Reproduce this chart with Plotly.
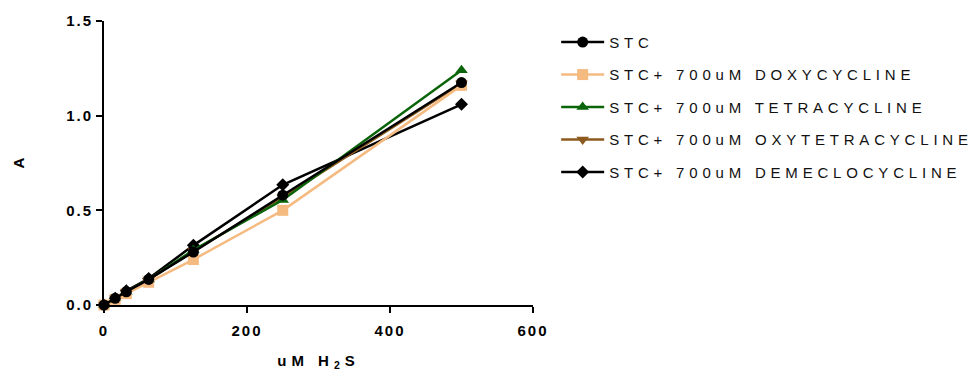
import plotly.graph_objects as go

# H2S concentration series (uM) and absorbance readings
conc_uM = [0, 15.625, 31.25, 62.5, 125, 250, 500]
series_names = [
    "STC",
    "STC+ 700uM DOXYCYCLINE",
    "STC+ 700uM TETRACYCLINE",
    "STC+ 700uM OXYTETRACYCLINE",
    "STC+ 700uM DEMECLOCYCLINE",
]
stc = [0, 0.035, 0.07, 0.135, 0.28, 0.58, 1.175]
doxy = [0, 0.03, 0.06, 0.12, 0.24, 0.50, 1.16]
tetra = [0, 0.035, 0.07, 0.135, 0.29, 0.555, 1.24]
oxy = [0, 0.035, 0.07, 0.135, 0.285, 0.57, 1.17]
deme = [0, 0.035, 0.075, 0.14, 0.315, 0.635, 1.06]
x_ticks = [0, 200, 400, 600]
y_ticks = [0.0, 0.5, 1.0, 1.5]

values = [stc, doxy, tetra, oxy, deme]
colors = ["#000000", "#F5BA80", "#0A640A", "#8C5A1E", "#000000"]
symbols = ["circle", "square", "triangle-up", "triangle-down", "diamond"]
sizes = [11, 11, 11, 11, 10]

FONT = "Liberation Sans, Arial, sans-serif"

fig = go.Figure()
# draw in reverse so the first series sits on top; legend keeps original order
for i in reversed(range(len(series_names))):
    fig.add_trace(go.Scatter(
        x=conc_uM, y=values[i], name=series_names[i],
        mode="lines+markers",
        line=dict(color=colors[i], width=2.5),
        marker=dict(symbol=symbols[i], size=sizes[i], color=colors[i]),
        cliponaxis=False,
        legendrank=i + 1,
        legendgroup=f"g{i}",
    ))

fig.update_layout(
    width=974, height=371,
    margin=dict(l=104, r=441, t=21, b=66),
    paper_bgcolor="white", plot_bgcolor="white",
    font=dict(family=FONT, color="#000000"),
    showlegend=True,
    legend=dict(
        x=1.054, xanchor="left", y=0.983, yanchor="top",
        font=dict(family=FONT, size=15, color="#111111"),
        tracegroupgap=10, itemwidth=43,
        bgcolor="rgba(0,0,0,0)",
    ),
    xaxis=dict(
        range=[0, 600], tickvals=x_ticks, ticktext=[str(v) for v in x_ticks],
        automargin=False,
        showgrid=False, zeroline=False,
        showline=True, linecolor="black", linewidth=2,
        ticks="outside", ticklen=6, tickwidth=2, tickcolor="black",
        ticklabelstandoff=5,
        tickfont=dict(family=FONT, size=15, weight="bold"),
        title=dict(text="uM H<sub>2</sub>S", font=dict(family=FONT, size=15, weight="bold"), standoff=18),
    ),
    yaxis=dict(
        range=[0, 1.5], tickvals=y_ticks, ticktext=["0.0", "0.5", "1.0", "1.5"],
        automargin=False,
        showgrid=False, zeroline=False,
        showline=True, linecolor="black", linewidth=2,
        ticks="outside", ticklen=6, tickwidth=2, tickcolor="black",
        tickfont=dict(family=FONT, size=15, weight="bold"),
        title=dict(text="A", font=dict(family=FONT, size=15, weight="bold"), standoff=44),
    ),
)

# widen the letter spacing of the chart's text, in the style of the original graph
spacing_js = """
var gd = document.getElementById('{plot_id}');
function spaceText() {
  gd.querySelectorAll('.legendtext').forEach(function(t){ t.style.letterSpacing = '4.8px'; });
  gd.querySelectorAll('.legend .scrollbox').forEach(function(s){ s.removeAttribute('clip-path'); });
  gd.querySelectorAll('.xtick text, .ytick text').forEach(function(t){ t.style.letterSpacing = '2px'; });
  gd.querySelectorAll('.g-xtitle text').forEach(function(t){ t.style.letterSpacing = '5px'; });
}
spaceText();
gd.on('plotly_afterplot', spaceText);
"""

fig.write_html("out.html", post_script=spacing_js)
